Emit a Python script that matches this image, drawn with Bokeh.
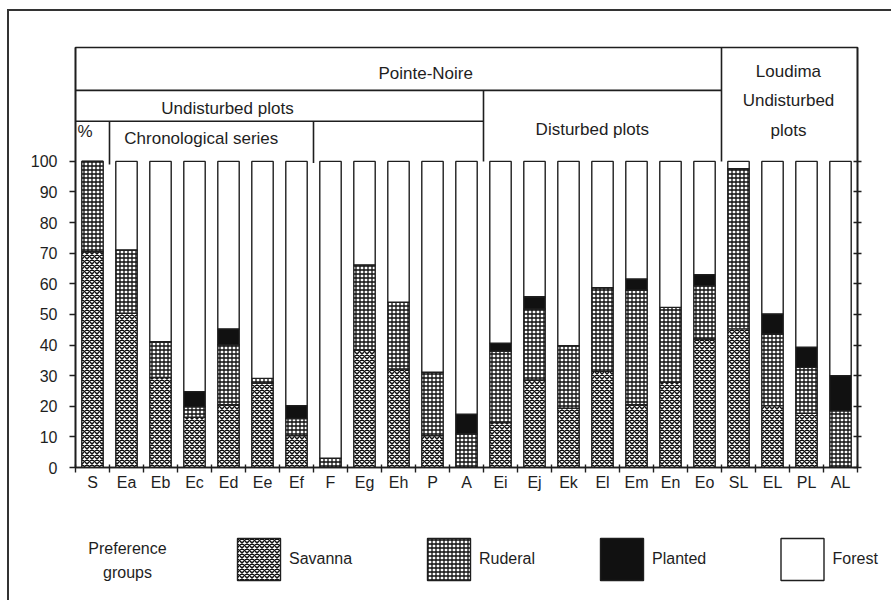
from bokeh.plotting import figure
from bokeh.layouts import column, row
from bokeh.models import (ColumnDataSource, Range1d, FixedTicker, LinearAxis, CustomJSTickFormatter)
from bokeh.transform import stack
from bokeh.core.properties import value
from bokeh.embed import file_html
from bokeh.resources import INLINE

# ---------------- data ----------------
categories = ["S", "Ea", "Eb", "Ec", "Ed", "Ee", "Ef", "F", "Eg", "Eh", "P", "A",
              "Ei", "Ej", "Ek", "El", "Em", "En", "Eo", "SL", "EL", "PL", "AL"]
savanna = [70.5, 50.4, 29.4, 16.4, 20.5, 27.6, 10.4, 0.0, 38.4, 32.2, 10.4, 0.0,
           14.7, 28.6, 19.4, 31.4, 20.5, 27.8, 42.0, 45.3, 20.2, 17.7, 0.0]
ruderal = [29.5, 20.7, 11.7, 3.4, 19.6, 1.5, 5.6, 3.0, 27.8, 21.8, 20.7, 11.0,
           23.3, 23.2, 20.4, 27.3, 37.5, 24.5, 17.4, 52.3, 23.4, 15.0, 18.5]
planted = [0.0, 0.0, 0.0, 5.0, 5.2, 0.0, 4.2, 0.0, 0.0, 0.0, 0.0, 6.4,
           2.6, 4.0, 0.0, 0.0, 3.6, 0.0, 3.6, 0.0, 6.6, 6.6, 11.5]
forest = [0.0, 28.9, 58.9, 75.2, 54.7, 70.9, 79.8, 97.0, 33.8, 46.0, 68.9, 82.6,
          59.4, 44.2, 60.2, 41.3, 38.4, 47.7, 37.0, 2.4, 49.8, 60.7, 70.0]
group_names = ["Savanna", "Ruderal", "Planted", "Forest"]
legend_title = "Preference\ngroups"
y_ticks = [0, 10, 20, 30, 40, 50, 60, 70, 80, 90, 100]

# header groupings: (label, first category, last category)
hdr_top = [("Pointe-Noire", "S", "Eo"), ("Loudima\nUndisturbed\nplots", "SL", "AL")]
hdr_mid = [("Undisturbed plots", "S", "A"), ("Disturbed plots", "Ei", "Eo")]
hdr_low = [("Chronological series", "Ea", "Ef")]

FONT = "Liberation Sans"
INK = "#1e1e1e"

n = len(categories)
idx = {c: i for i, c in enumerate(categories)}
centers = [i + 0.5 for i in range(n)]
bounds = list(range(n + 1))

src = ColumnDataSource(dict(x=centers, cat=categories, savanna=savanna, ruderal=ruderal,
                            planted=planted, forest=forest))

p = figure(width=882, height=494, output_backend="svg", toolbar_location=None,
           x_range=Range1d(0, n), y_range=Range1d(0, 137.2),
           min_border_left=66, min_border_right=34, min_border_top=36, min_border_bottom=38)
p.grid.visible = False
p.outline_line_color = INK
p.outline_line_width = 1.6
p.background_fill_color = "white"
p.border_fill_color = "white"

layer_fields = ["savanna", "ruderal", "planted", "forest"]
styles = [
    dict(fill_color="white", hatch_pattern="diagonal_cross", hatch_scale=5, hatch_weight=1.5,
         hatch_color="#111"),
    dict(fill_color="white", hatch_pattern="cross", hatch_scale=4, hatch_weight=1.3,
         hatch_color="#111"),
    dict(fill_color="#111"),
    dict(fill_color="white"),
]
for i, f in enumerate(layer_fields):
    p.vbar(x="x", width=0.63, bottom=stack(*layer_fields[:i]), top=stack(*layer_fields[:i + 1]),
           source=src, line_color=INK, line_width=1.4, **styles[i])

# ---------------- axes ----------------
p.xaxis.ticker = FixedTicker(ticks=centers, minor_ticks=bounds)
p.xaxis.formatter = CustomJSTickFormatter(args=dict(labels=categories),
                                          code="const l = labels[Math.floor(tick)]; return l === undefined ? '' : l;")
p.xaxis.major_tick_in = 0
p.xaxis.major_tick_out = 0
p.xaxis.minor_tick_in = 3
p.xaxis.minor_tick_out = 5
p.xaxis.minor_tick_line_color = INK
p.xaxis.minor_tick_line_width = 1.4
p.xaxis.major_label_standoff = 1
p.xaxis.axis_line_color = INK
p.xaxis.axis_line_width = 1.6

p.yaxis.ticker = FixedTicker(ticks=y_ticks)
p.yaxis.major_tick_in = 0
p.yaxis.major_tick_out = 6
p.yaxis.minor_tick_line_color = None
p.yaxis.major_label_standoff = 12
p.yaxis.axis_line_color = INK
p.yaxis.axis_line_width = 1.6
p.yaxis.major_tick_line_color = INK
p.yaxis.major_tick_line_width = 1.4

for ax in (p.xaxis[0], p.yaxis[0]):
    ax.major_label_text_font = FONT
    ax.major_label_text_font_size = "16px"
    ax.major_label_text_color = INK

right_ax = LinearAxis(ticker=FixedTicker(ticks=y_ticks), major_tick_in=4, major_tick_out=4,
                      major_tick_line_color=INK, major_tick_line_width=1.4, minor_tick_line_color=None,
                      axis_line_color=INK, axis_line_width=1.6, major_label_standoff=0,
                      formatter=CustomJSTickFormatter(code="return '';"))
p.add_layout(right_ax, "right")

# ---------------- header boxes ----------------
Y_TOP, Y1, Y2, Y_BAR = 137.2, 123.2, 113.1, 100.0
x0s, y0s, x1s, y1s = [], [], [], []
x0s.append(idx[hdr_top[0][1]]); x1s.append(idx[hdr_top[0][2]] + 1); y0s.append(Y1); y1s.append(Y1)
x0s.append(idx[hdr_top[1][1]]); x1s.append(idx[hdr_top[1][1]]); y0s.append(Y_TOP); y1s.append(Y_BAR)
x0s.append(idx[hdr_mid[0][1]]); x1s.append(idx[hdr_mid[0][2]] + 1); y0s.append(Y2); y1s.append(Y2)
x0s.append(idx[hdr_mid[1][1]]); x1s.append(idx[hdr_mid[1][1]]); y0s.append(Y1); y1s.append(Y_BAR)
x0s.append(idx[hdr_low[0][1]]); x1s.append(idx[hdr_low[0][1]]); y0s.append(Y2); y1s.append(Y_BAR - 1)
x0s.append(idx[hdr_low[0][2]] + 1); x1s.append(idx[hdr_low[0][2]] + 1); y0s.append(Y2); y1s.append(Y_BAR - 0.5)
p.segment(x0=x0s, y0=y0s, x1=x1s, y1=y1s, line_color=INK, line_width=1.6)

hdr_text = [hdr_top[0][0], hdr_mid[0][0], hdr_low[0][0], hdr_mid[1][0], hdr_top[1][0], "%"]
hdr_x = [10.3, 4.47, 3.7, 15.2, 20.97, 0.28]
hdr_y = [128.8, 117.3, 107.6, 110.5, 119.8, 109.8]
p.text(x=hdr_x, y=hdr_y, text=hdr_text, text_align="center", text_baseline="middle",
       text_font=value(FONT), text_font_size="17px", text_color=INK, text_line_height=1.55)

# ---------------- legend strip (second figure, pixel coordinates) ----------------
LW, LH = 882, 95
p2 = figure(width=LW, height=LH, output_backend="svg", toolbar_location=None,
            x_range=Range1d(0, LW), y_range=Range1d(LH, 0), min_border=0,
            x_axis_type=None, y_axis_type=None)
p2.grid.visible = False
p2.outline_line_color = None
p2.background_fill_color = "white"
p2.border_fill_color = "white"

sw_x = [249.5, 439.5, 612.5, 793.0]
sw_y = 54
for i in range(4):
    p2.rect(x=[sw_x[i]], y=[sw_y], width=43, height=42, line_color=INK, line_width=1.4, **styles[i])
p2.text(x=[sx + 30 for sx in sw_x], y=[sw_y - 1] * 4, text=group_names, text_align="left",
        text_baseline="middle", text_font=value(FONT), text_font_size="16px", text_color=INK)
p2.text(x=[118], y=[55], text=[legend_title], text_align="center", text_baseline="middle",
        text_font=value(FONT), text_font_size="16px", text_color=INK, text_line_height=1.45)

layout = column(p, row(p2), spacing=0,
                styles={"margin-left": "7px", "margin-top": "9px",
                        "border-top": "2px solid #333", "border-left": "2px solid #333"})

open("out.html", "w").write(file_html(layout, INLINE))
